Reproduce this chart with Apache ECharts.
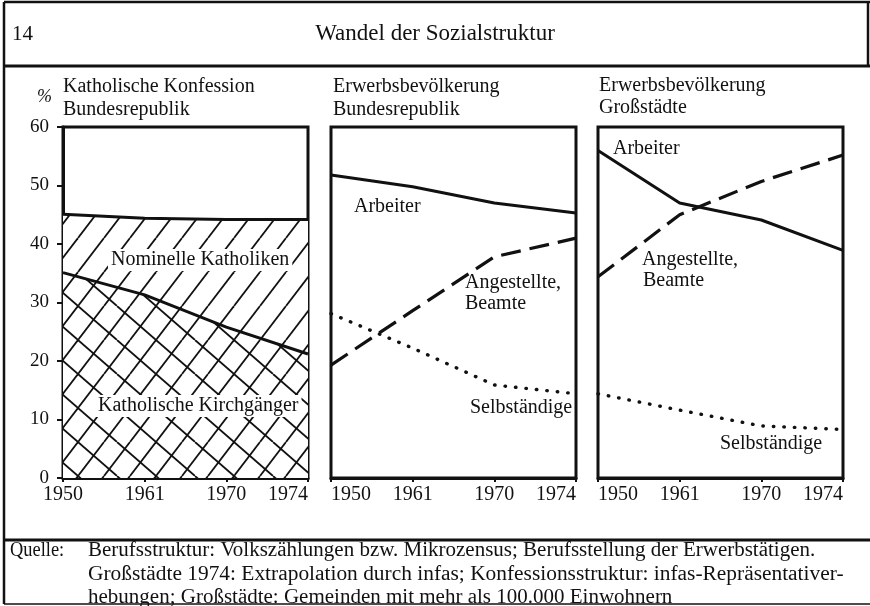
<!DOCTYPE html>
<html>
<head>
<meta charset="utf-8">
<title>Wandel der Sozialstruktur</title>
<script src="https://cdn.jsdelivr.net/npm/echarts@6/dist/echarts.min.js"></script>
<style>
body{margin:0;background:#fff;}
#chart{width:870px;height:606px;}
</style>
</head>
<body>
<div id="chart"></div>
<script>

// categories
const years = ['1950', '1961', '1970', '1974']

// Katholische Konfession, Bundesrepublik (%)
const nominelleKatholiken = [45.1, 44.4, 44.2, 44.2]
const katholischeKirchgaenger = [35.1, 31.3, 25.8, 21.2]

// Erwerbsbevoelkerung, Bundesrepublik (%)
const arbeiterBRD = [51.8, 49.8, 47.0, 45.3]
const angestellteBRD = [19.3, 28.6, 37.8, 41.0]
const selbstaendigeBRD = [28.1, 22.2, 15.9, 14.4]

// Erwerbsbevoelkerung, Grossstaedte (%)
const arbeiterStadt = [56.0, 47.0, 44.1, 38.9]
const angestellteStadt = [34.4, 45.0, 50.7, 55.2]
const selbstaendigeStadt = [14.4, 11.6, 8.9, 8.3]

const yMin = 0
const yMax = 60
const yStep = 10

const serif = 'Liberation Serif'
const ink = '#111'

// hatch tiles: "/" only, or "/" plus "\" (cross)
function hatch(cross){
  const w = 78, h = 34
  const c = document.createElement('canvas')
  c.width = w
  c.height = h
  const g = c.getContext('2d')
  g.fillStyle = '#fff'
  g.fillRect(0, 0, w, h)
  g.strokeStyle = ink
  g.lineWidth = 1.8
  for (let x = -26; x <= w; x += 26) {
    g.beginPath(); g.moveTo(x, h); g.lineTo(x + 26, 0); g.stroke()
  }
  if (cross) {
    for (let x = -39; x <= w; x += 39) {
      g.beginPath(); g.moveTo(x, 0); g.lineTo(x + 39, h); g.stroke()
    }
  }
  return c
}

const grids = [
  { left: 63, top: 127, width: 245, height: 351 },
  { left: 331, top: 127, width: 245, height: 351 },
  { left: 598, top: 127, width: 245, height: 351 }
]

function xAxis(i){
  return {
    type: 'category', gridIndex: i, data: years, boundaryGap: false,
    axisLine: { lineStyle: { color: ink, width: 3 } },
    axisTick: { show: true, length: 4, lineStyle: { color: ink, width: 2 } },
    axisLabel: {
      color: ink, fontFamily: serif, fontSize: 20, margin: 7,
      alignMinLabel: i === 0 ? 'center' : 'left',
      alignMaxLabel: 'right'
    },
    splitLine: { show: false }
  }
}

function yAxis(i){
  return {
    type: 'value', gridIndex: i, min: yMin, max: yMax, interval: yStep,
    axisLine: { show: i === 0, lineStyle: { color: ink, width: 3 } },
    axisTick: { show: i === 0, inside: false, length: 6, lineStyle: { color: ink, width: 2 } },
    axisLabel: { show: i === 0, color: ink, fontFamily: serif, fontSize: 19, margin: 14 },
    splitLine: { show: false }
  }
}

function line(name, data, i, type){
  const ls = { color: ink, width: 3, type: 'solid' }
  if (type === 'dash') { ls.type = [20, 9]; ls.width = 3.2 }
  if (type === 'dot') { ls.type = [0.5, 10]; ls.cap = 'round'; ls.width = 3.4 }
  return {
    name: name, type: 'line', xAxisIndex: i, yAxisIndex: i, data: data,
    symbol: 'none', lineStyle: ls, silent: true, animation: false, z: 3
  }
}

function txt(s, x, y, size, align, extra, sx){
  return {
    type: 'text', x: x, y: y, z: 50, scaleX: sx || 1,
    style: Object.assign({
      text: s, fill: ink, font: size + 'px "' + serif + '"',
      textAlign: align || 'left', textVerticalAlign: 'middle'
    }, extra || {})
  }
}

function seg(x1, y1, x2, y2, w){
  return { type: 'line', z: 40, shape: { x1: x1, y1: y1, x2: x2, y2: y2 }, style: { stroke: ink, lineWidth: w } }
}

const chart = echarts.init(document.getElementById('chart'), null, { renderer: 'canvas' })

const boxed = { backgroundColor: '#fff', padding: [1, 3] }

chart.setOption({
  animation: false,
  backgroundColor: '#fff',
  grid: grids.map(g => Object.assign({ show: true, borderColor: ink, borderWidth: 3, backgroundColor: '#fff' }, g)),
  xAxis: [xAxis(0), xAxis(1), xAxis(2)],
  yAxis: [yAxis(0), yAxis(1), yAxis(2)],
  series: [
    Object.assign(line('Nominelle Katholiken', nominelleKatholiken, 0), {
      areaStyle: { color: { image: hatch(false), repeat: 'repeat' }, opacity: 1 }, z: 2
    }),
    Object.assign(line('Katholische Kirchgänger', katholischeKirchgaenger, 0), {
      areaStyle: { color: { image: hatch(true), repeat: 'repeat' }, opacity: 1 }, z: 3
    }),
    line('Arbeiter', arbeiterBRD, 1),
    line('Angestellte, Beamte', angestellteBRD, 1, 'dash'),
    line('Selbständige', selbstaendigeBRD, 1, 'dot'),
    line('Arbeiter', arbeiterStadt, 2),
    line('Angestellte, Beamte', angestellteStadt, 2, 'dash'),
    line('Selbständige', selbstaendigeStadt, 2, 'dot')
  ],
  graphic: [
    // frame
    seg(4, 2, 4, 604, 2.5),
    seg(4, 2, 870, 2, 2.5),
    seg(868, 2, 868, 66, 2.5),
    seg(4, 66, 870, 66, 3),
    seg(4, 540, 870, 540, 3),
    seg(4, 604, 870, 604, 1.5),
    // header
    txt('14', 12, 34, 21),
    txt('Wandel der Sozialstruktur', 435, 34, 23, 'center'),
    // panel titles
    txt('%', 37, 97, 18, 'left', { font: 'italic 18px "' + serif + '"' }),
    txt('Katholische Konfession', 63, 87, 20),
    txt('Bundesrepublik', 63, 110, 20),
    txt('Erwerbsbevölkerung', 333, 87, 20),
    txt('Bundesrepublik', 333, 110, 20),
    txt('Erwerbsbevölkerung', 599, 86, 20),
    txt('Großstädte', 599, 108, 20),
    // annotations panel 1
    txt('Nominelle Katholiken', 108, 260, 20, 'left', boxed),
    txt('Katholische Kirchgänger', 95, 406, 20, 'left', boxed),
    // annotations panel 2
    txt('Arbeiter', 354, 207, 20),
    txt('Angestellte,', 465, 283, 20),
    txt('Beamte', 465, 304, 20),
    txt('Selbständige', 470, 408, 20),
    // annotations panel 3
    txt('Arbeiter', 613, 149, 20),
    txt('Angestellte,', 642, 260, 20),
    txt('Beamte', 643, 281, 20),
    txt('Selbständige', 720, 444, 20),
    // source
    txt('Quelle:', 10, 551, 20, 'left', null, 0.92),
    txt('Berufsstruktur: Volkszählungen bzw. Mikrozensus; Berufsstellung der Erwerbstätigen.', 88, 551, 20, 'left', null, 1.05),
    txt('Großstädte 1974: Extrapolation durch infas; Konfessionsstruktur: infas-Repräsentativer-', 88, 575, 20, 'left', null, 1.07),
    txt('hebungen; Großstädte: Gemeinden mit mehr als 100.000 Einwohnern', 88, 598, 20, 'left', null, 1.05)
  ]
})

</script>
</body>
</html>
